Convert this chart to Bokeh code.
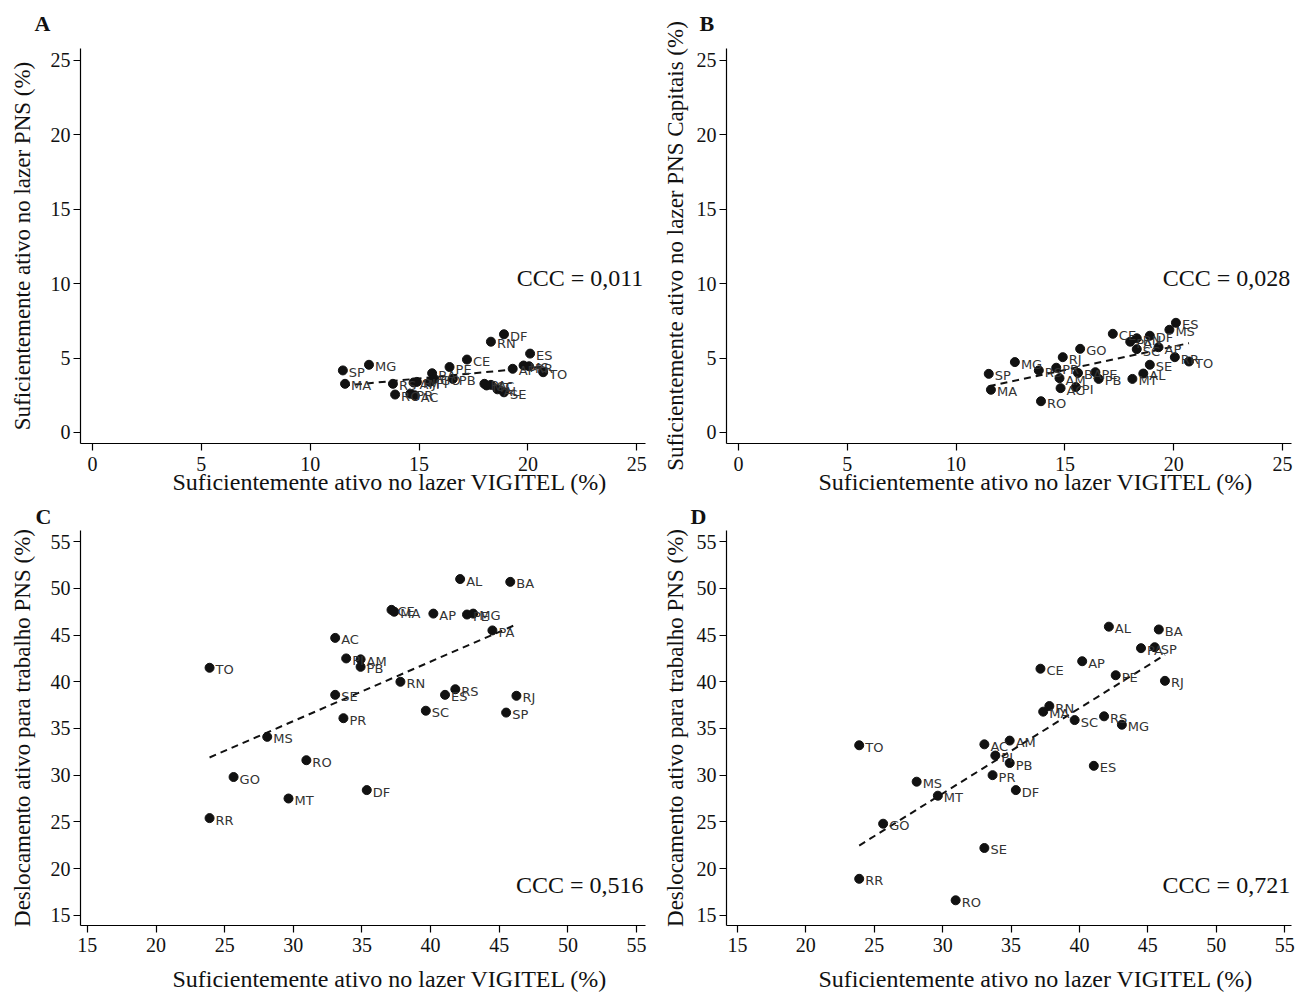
import numpy as np
from bokeh.plotting import figure
from bokeh.layouts import gridplot
from bokeh.models import ColumnDataSource, Label, Range1d, FixedTicker
from bokeh.embed import file_html
from bokeh.resources import INLINE

states = ["AC", "AL", "AP", "AM", "BA", "CE", "DF", "ES", "GO", "MA", "MT", "MS", "MG", "PA",
          "PB", "PR", "PE", "PI", "RJ", "RN", "RS", "RO", "RR", "SC", "SP", "SE", "TO"]

# Panels A and B: leisure-time physical activity
vig_lazer = [14.8, 18.6, 19.3, 14.75, 15.6, 17.2, 18.9, 20.1, 15.7, 11.6, 18.1, 19.8, 12.7, 18.0,
             16.55, 14.6, 16.4, 15.5, 14.9, 18.3, 13.8, 13.9, 20.05, 18.3, 11.5, 18.9, 20.7]
pns_lazer = [2.5, 2.9, 4.28, 3.36, 3.98, 4.9, 6.6, 5.3, 3.6, 3.27, 3.16, 4.5, 4.55, 3.27,
             3.6, 2.6, 4.4, 3.4, 3.4, 6.1, 3.27, 2.55, 4.45, 3.2, 4.17, 2.7, 4.05]
pns_cap_lazer = [2.98, 3.96, 5.73, 3.65, 4.0, 6.63, 6.5, 7.37, 5.62, 2.87, 3.6, 6.9, 4.73, 6.1,
                 3.6, 4.35, 4.05, 3.05, 5.06, 6.33, 4.17, 2.1, 5.06, 5.6, 3.94, 4.55, 4.77]

# Panels C and D: active commuting
vig_desl = [33.05, 42.15, 40.2, 34.9, 45.8, 37.15, 35.35, 41.05, 25.65, 37.35, 29.65, 28.1, 43.1, 44.5,
            34.9, 33.65, 42.65, 33.85, 46.25, 37.8, 41.8, 30.95, 23.9, 39.65, 45.5, 33.05, 23.9]
pns_desl = [44.7, 51.0, 47.3, 42.4, 50.7, 47.7, 28.4, 38.6, 29.8, 47.5, 27.5, 34.1, 47.3, 45.5,
            41.6, 36.1, 47.2, 42.5, 38.5, 40.0, 39.2, 31.6, 25.4, 36.9, 36.7, 38.6, 41.5]
pns_cap_desl = [33.3, 45.9, 42.2, 33.7, 45.6, 41.4, 28.4, 31.0, 24.8, 36.8, 27.8, 29.3, 35.4, 43.6,
                31.3, 30.0, 40.7, 32.1, 40.1, 37.4, 36.3, 16.6, 18.9, 35.9, 43.7, 22.2, 33.2]

ccc_values = ["CCC = 0,011", "CCC = 0,028", "CCC = 0,516", "CCC = 0,721"]
xlabel = "\u00a0" * 9 + "Suficientemente ativo no lazer VIGITEL (%)"
ylabels = ["Suficientemente ativo no lazer PNS (%)",
           "Suficientemente ativo no lazer PNS Capitais (%)",
           "Deslocamento ativo para trabalho PNS (%)",
           "Deslocamento ativo para trabalho PNS (%)"]
ticks_lazer = [0, 5, 10, 15, 20, 25]
ticks_desl = [15, 20, 25, 30, 35, 40, 45, 50, 55]

SERIF = "Liberation Serif"


def panel(letter, xs, ys, ylabel, ccc, xr, yr, ticks, width, height, bl, br, bt, bb,
          ccc_y, ccc_x, title_offset, title_standoff, ylab_standoff, xtick_standoff, xlab_standoff):
    p = figure(width=width, height=height, output_backend="svg", toolbar_location=None,
               x_range=Range1d(*xr), y_range=Range1d(*yr),
               min_border_left=bl, min_border_right=br, min_border_top=bt, min_border_bottom=bb)
    p.outline_line_color = None
    p.grid.grid_line_color = None
    p.background_fill_color = "white"
    p.border_fill_color = "white"
    for ax in (p.xaxis[0], p.yaxis[0]):
        ax.ticker = FixedTicker(ticks=ticks)
        ax.minor_tick_line_color = None
        ax.major_tick_in = 0
        ax.major_tick_out = 7
        ax.axis_line_color = "black"
        ax.axis_line_width = 1.2
        ax.major_tick_line_width = 1.2
        ax.major_label_text_font = SERIF
        ax.major_label_text_font_size = "20px"
        ax.major_label_text_color = "#111111"
        ax.axis_label_text_font = SERIF
        ax.axis_label_text_font_size = "23px"
        ax.axis_label_text_font_style = "normal"
        ax.axis_label_text_color = "#111111"
    p.xaxis.axis_label_text_font_size = "24px"
    p.xaxis.axis_label = xlabel
    p.yaxis.axis_label = ylabel
    p.xaxis.major_label_standoff = xtick_standoff
    p.xaxis.axis_label_standoff = xlab_standoff
    p.yaxis.major_label_standoff = 3
    p.yaxis.axis_label_standoff = ylab_standoff

    p.title.text = letter
    p.title.align = "left"
    p.title.vertical_align = "top"
    p.title.offset = title_offset
    p.title.standoff = title_standoff
    p.title.text_font = SERIF
    p.title.text_font_size = "22px"
    p.title.text_font_style = "bold"
    p.title.text_line_height = 0.8
    p.title.text_color = "#111111"

    src = ColumnDataSource(dict(x=xs, y=ys, s=states))
    # linear fit line
    k, b = np.polyfit(np.array(xs), np.array(ys), 1)
    x0, x1 = min(xs), max(xs)
    p.line([x0, x1], [k * x0 + b, k * x1 + b], line_color="#111111", line_width=2,
           line_dash="7 5")
    p.scatter("x", "y", source=src, size=9, fill_color="#111111", line_color="#111111")
    p.text("x", "y", text="s", source=src, x_offset=6, y_offset=2,
           text_font_size="13px", text_baseline="middle", text_color="#333333",
           text_font={"value": "DejaVu Sans"})

    p.add_layout(Label(x=ccc_x, y=ccc_y, text=ccc, text_align="right", text_baseline="middle",
                       text_font=SERIF, text_font_size="24px", text_color="#111111"))
    return p


pA = panel("A", vig_lazer, pns_lazer, ylabels[0], ccc_values[0], (-0.55, 25.4), (-0.74, 25.8),
           ticks_lazer, 658, 498, 80, 13, 48, 55, 10.35, 25.3, -46, 21, 13, 6, -5)
pB = panel("B", vig_lazer, pns_cap_lazer, ylabels[1], ccc_values[1], (-0.55, 25.41), (-0.74, 25.8),
           ticks_lazer, 641, 498, 68, 8, 48, 55, 10.35, 25.35, -27, 21, 6, 6, -5)
pC = panel("C", vig_desl, pns_desl, ylabels[2], ccc_values[2], (14.5, 55.65), (13.9, 56.2),
           ticks_desl, 658, 496, 80, 13, 32, 69, 18.2, 55.5, -45, 0, 13, 5, 11)
pD = panel("D", vig_desl, pns_cap_desl, ylabels[3], ccc_values[3], (14.2, 55.5), (13.9, 56.2),
           ticks_desl, 641, 496, 68, 8, 32, 69, 18.2, 55.4, -36, 0, 6, 5, 11)

grid = gridplot([[pA, pB], [pC, pD]], toolbar_location=None)
open("out.html", "w").write(file_html(grid, INLINE))
